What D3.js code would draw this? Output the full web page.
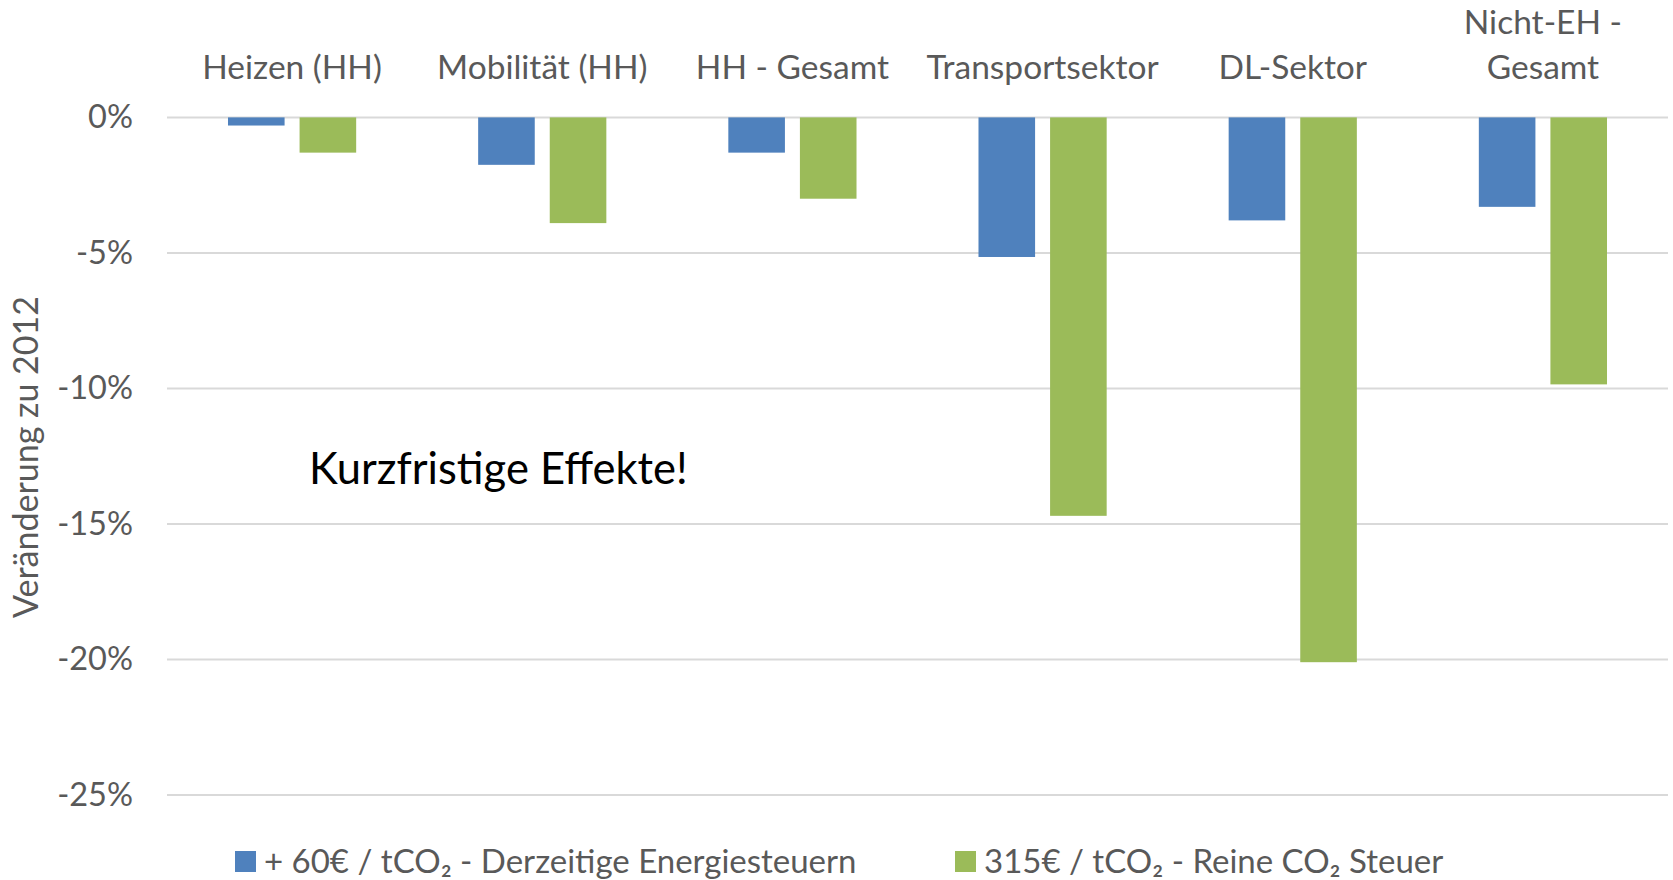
<!DOCTYPE html>
<html><head><meta charset="utf-8">
<script src="https://cdn.jsdelivr.net/npm/d3@7"></script>
<style>body{margin:0;background:#fff;} svg{display:block;} text{font-family:Lato, "Open Sans", sans-serif;}</style>
</head><body><svg id="c" width="1673" height="880"></svg>
<script>
const categories = [["Heizen (HH)"], ["Mobilität (HH)"], ["HH - Gesamt"], ["Transportsektor"], ["DL-Sektor"], ["Nicht-EH -", "Gesamt"]];
const seriesNames = ["+ 60€ / tCO₂ - Derzeitige Energiesteuern", "315€ / tCO₂ - Reine CO₂ Steuer"];
const series60 = [-0.3, -1.75, -1.3, -5.15, -3.8, -3.3];
const series315 = [-1.3, -3.9, -3.0, -14.7, -20.1, -9.85];
const yTicks = [0, -5, -10, -15, -20, -25];
const colors = ["#4F81BD", "#9BBB59"];

const svg = d3.select("#c");
const pL = 167, pR = 1668, pT = 117.4, pB = 795;
const x = d3.scaleBand().domain(d3.range(categories.length)).range([pL, pR]).paddingInner(0).paddingOuter(0);
const y = d3.scaleLinear().domain([0, -25]).range([pT, pB]);
const bw = x.bandwidth();
const sub = d3.scaleBand().domain([0, 1]).range([0, bw]).paddingInner(0.2095).paddingOuter(0.852);

// gridlines
svg.append("g").selectAll("line").data(yTicks).join("line")
  .attr("x1", pL).attr("x2", pR).attr("y1", d => y(d)).attr("y2", d => y(d))
  .attr("stroke", "#D9D9D9").attr("stroke-width", 2);

// y tick labels
const yAxis = d3.axisLeft(y).tickValues(yTicks).tickFormat(d => d + "%").tickSize(0).tickPadding(0);
const ya = svg.append("g").attr("transform", `translate(133,0)`).call(yAxis);
ya.select(".domain").remove();
ya.selectAll("text").attr("font-size", 32.5).attr("fill", "#595959").attr("font-family", "Lato, sans-serif");

// bars
const data = [series60, series315];
data.forEach((vals, si) => {
  svg.append("g").selectAll("rect").data(vals).join("rect")
    .attr("x", (d, i) => x(i) + sub(si))
    .attr("width", sub.bandwidth())
    .attr("y", y(0))
    .attr("height", d => y(d) - y(0))
    .attr("fill", colors[si]);
});

// category labels
const cg = svg.append("g");
categories.forEach((lines, i) => {
  const t = cg.append("text").attr("x", x(i) + bw/2).attr("text-anchor", "middle")
    .attr("font-size", 33.5).attr("fill", "#595959");
  lines.forEach((ln, j) => {
    t.append("tspan").attr("x", x(i) + bw/2)
      .attr("y", 79 - (lines.length - 1 - j) * 45)
      .text(ln);
  });
});

// y axis title
svg.append("text").attr("transform", "translate(38,457) rotate(-90)").attr("text-anchor", "middle")
  .attr("font-size", 34).attr("fill", "#595959").text("Veränderung zu 2012");

// annotation
svg.append("text").attr("x", 309).attr("y", 484).attr("font-size", 43.5).attr("fill", "#000").text("Kurzfristige Effekte!");

// legend
const legX = [235, 955];
seriesNames.forEach((n, i) => {
  svg.append("rect").attr("x", legX[i]).attr("y", 851).attr("width", 21).attr("height", 21).attr("fill", colors[i]);
  svg.append("text").attr("x", legX[i] + 29).attr("y", 873).attr("font-size", 33).attr("fill", "#595959").text(n);
});
</script></body></html>
